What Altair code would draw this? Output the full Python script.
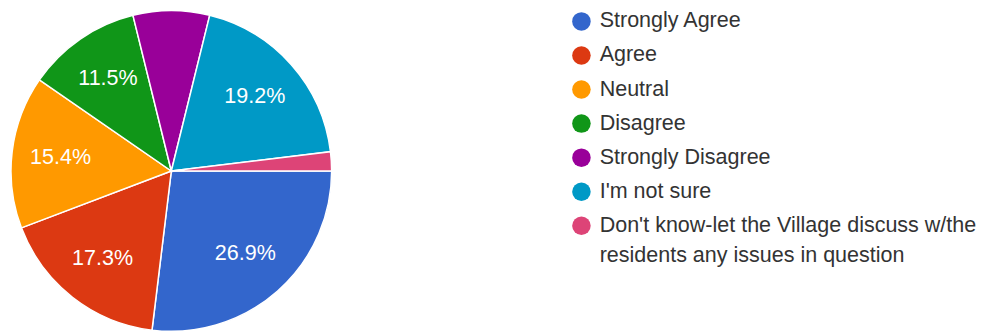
import math
import altair as alt
import pandas as pd

categories = [
    "Strongly Agree",
    "Agree",
    "Neutral",
    "Disagree",
    "Strongly Disagree",
    "I'm not sure",
    "Don't know-let the Village discuss w/the residents any issues in question",
]
counts = [14, 9, 8, 6, 4, 10, 1]
colors = ["#3366cc", "#dc3912", "#ff9900", "#109618", "#990099", "#0099c6", "#dd4477"]

total = sum(counts)
pct_labels = [f"{c / total * 100:.1f}%" if c / total >= 0.1 else "" for c in counts]

df = pd.DataFrame({
    "category": categories,
    "count": counts,
    "order": list(range(len(categories))),
    "label": pct_labels,
})

long_label = categories[-1]
label_expr = (
    'datum.label == "' + long_label + '" ? '
    '["Don\'t know-let the Village discuss w/the", "residents any issues in question"] : datum.label'
)

FONT = "Liberation Sans"

base = alt.Chart(df).encode(
    theta=alt.Theta("count:Q", stack=True,
                    scale=alt.Scale(range=[math.pi / 2, math.pi / 2 + 2 * math.pi])),
    order=alt.Order("order:Q"),
)

pie = base.mark_arc(outerRadius=161, stroke="white", strokeWidth=1.5).encode(
    color=alt.Color(
        "category:N",
        sort=categories,
        scale=alt.Scale(domain=categories, range=colors),
        legend=alt.Legend(
            title=None,
            orient="none",
            legendX=564,
            legendY=0,
            direction="vertical",
            symbolType="circle",
            symbolSize=346,
            symbolStrokeWidth=0,
            labelFont=FONT,
            labelFontSize=21.6,
            labelColor="#333333",
            labelOffset=7.5,
            labelLimit=600,
            rowPadding=11.2,
            padding=0,
            labelExpr=label_expr,
        ),
    ),
)

text = base.mark_text(radius=112, font=FONT, fontSize=21.6, color="white").encode(
    text="label:N"
)

chart = (pie + text).properties(
    width=326, height=322,
    padding={"left": 0, "top": -1, "right": 0, "bottom": 0},
).configure_view(stroke=None).configure(
    style={"guide-label": {"lineHeight": 30}}
)

chart.save("out.html", embed_options={"renderer": "svg", "actions": False})
